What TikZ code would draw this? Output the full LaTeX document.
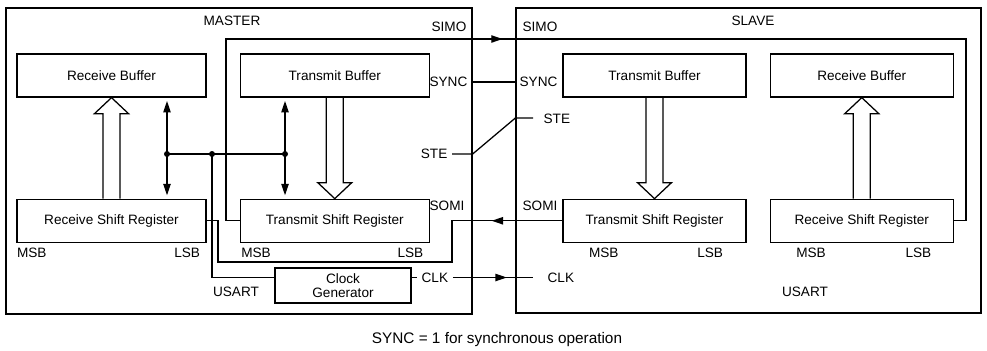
\documentclass[tikz,border=0pt]{standalone}
\usepackage{fontspec}
\setmainfont{Liberation Sans}
\usetikzlibrary{arrows.meta,positioning,fit,calc,decorations.markings}

\newcommand{\fatarrow}[3]{%
  \draw ($(#1)+(-8.5,0)$) -- ($(#2)+(-8.5,#3)$) -- ($(#2)+(-17,#3)$) -- (#2)
    -- ($(#2)+(17,#3)$) -- ($(#2)+(8.5,#3)$) -- ($(#1)+(8.5,0)$);}

\begin{document}
\begin{tikzpicture}[x=0.75pt, y=-0.75pt, line width=0.95pt,
  node distance=75.75pt and 24.75pt,
  every node/.style={font=\fontsize{10.2}{11}\selectfont},
  frame/.style={draw, inner sep=0pt},
  blk/.style={draw, minimum width=141.75pt, minimum height=32.25pt, align=center},
  sblk/.style={blk, minimum width=137.25pt},
  lbl/.style={inner sep=0pt},
  pinlbl/.style={inner sep=0pt, outer sep=3.5pt},
  arr/.style={-{Triangle[length=8.5pt,width=5.5pt]}, shorten >=2.5pt},
  dot/.style={circle, fill, inner sep=0pt, minimum size=4.5pt},
  mid arrow/.style={postaction=decorate, decoration={markings,
    mark=at position #1 with {\arrow{Triangle[length=8.5pt,width=5.5pt]}}}}]
  \useasboundingbox (0,0) rectangle (987,350);
  \node[frame, fit={(6,8) (472,314)}] (master) {};
  \node[frame, fit={(516,8) (981,313)}] (slave) {};
  \node[lbl] (mtitle) at (232,21) {MASTER};
  \node[lbl] (stitle) at (753,21) {SLAVE};

  \node[blk] (mrb) at (111.5,75.5) {Receive Buffer};
  \node[blk, right=of mrb] (mtb) {Transmit Buffer};
  \node[blk, below=of mrb] (mrsr) {Receive Shift Register};
  \node[blk, below=of mtb] (mtsr) {Transmit Shift Register};
  \node[blk, minimum width=102pt, minimum height=26.25pt] (clkgen) at (343,285.5) {Clock\\Generator};

  \node[sblk] (stb) at (654.5,75.5) {Transmit Buffer};
  \node[sblk, right=17.25pt of stb] (srb) {Receive Buffer};
  \node[sblk, below=of stb] (stsr) {Transmit Shift Register};
  \node[sblk, below=of srb] (srsr) {Receive Shift Register};

  \node[lbl, below right=3.5pt and 0pt of mrsr.south west] (mrmsb) {MSB};
  \node[lbl, below left=3.5pt and 4.5pt of mrsr.south east] (mrlsb) {LSB};
  \node[lbl, below right=3.5pt and 0.75pt of mtsr.south west] (mtmsb) {MSB};
  \node[lbl, below left=3.5pt and 4.5pt of mtsr.south east] (mtlsb) {LSB};
  \node[lbl, below right=3.5pt and 19.5pt of stsr.south west] (stmsb) {MSB};
  \node[lbl, below left=3.5pt and 17.25pt of stsr.south east] (stlsb) {LSB};
  \node[lbl, below right=3.5pt and 19.5pt of srsr.south west] (srmsb) {MSB};
  \node[lbl, below left=3.5pt and 16.5pt of srsr.south east] (srlsb) {LSB};

  \node[lbl, anchor=east] (msimo) at (467,26.5) {SIMO};
  \node[lbl, anchor=west] (ssimo) at (522,26.5) {SIMO};
  \node[lbl, anchor=east] (msync) at (468,82) {SYNC};
  \node[lbl, anchor=west] (ssync) at (519,82) {SYNC};
  \node[pinlbl, anchor=east] (mste) at (452,154) {STE};
  \node[lbl, anchor=west] (sste) at (543,119) {STE};
  \node[lbl, anchor=east] (msomi) at (465,206) {SOMI};
  \node[lbl, anchor=west] (ssomi) at (522,206) {SOMI};
  \node[pinlbl, anchor=west] (mclk) at (417,277.5) {CLK};
  \node[lbl, anchor=west] (sclk) at (547,277.5) {CLK};
  \node[lbl] (musart) at (236,292) {USART};
  \node[lbl] (susart) at (805,292) {USART};
  \node[lbl, font=\fontsize{11.5}{13}\selectfont] (note) at (497,340) {SYNC = 1 for synchronous operation};

  \coordinate (j1) at (167,154);
  \coordinate (j2) at (212,154);
  \coordinate (j3) at (285,154);
  \coordinate (simoL) at (226,39);
  \coordinate (simoR) at (966,39);
  \coordinate (somiA) at (452,262);
  \coordinate (somiB) at (218,262);
  \coordinate (steR) at (533,118);
  \coordinate (clkR) at (533,277.5);

  \draw[mid arrow=354pt] (mtsr.west) -| (simoL) -- (simoR) |- (srsr.east);
  \draw[mid arrow=53pt] (stsr.west) -| (somiA) -- (somiB) |- (mrsr.east);
  \draw (master.east |- msync) -- (slave.west |- msync);
  \draw (mste.east) -- (master.east |- mste) -- (slave.west |- steR) -- (steR);
  \draw (clkgen.east |- mclk) -- (mclk.west);
  \draw[mid arrow=40.5pt] (mclk.east) -- (clkR);
  \draw (clkgen.west |- mclk) -| (j2);
  \draw (j1) -- (j3);
  \foreach \j in {j1,j2,j3}
    \node[dot] (dot-\j) at (\j) {};
  \draw[arr] (j1) -- (j1 |- mrb.south);
  \draw[arr] (j1) -- (j1 |- mrsr.north);
  \draw[arr] (j3) -- (j3 |- mtb.south);
  \draw[arr] (j3) -- (j3 |- mtsr.north);

  \fatarrow{mrsr.north}{mrb.south}{16}
  \fatarrow{mtb.south}{mtsr.north}{-16}
  \fatarrow{stb.south}{stsr.north}{-16}
  \fatarrow{srsr.north}{srb.south}{16}
\end{tikzpicture}
\end{document}
